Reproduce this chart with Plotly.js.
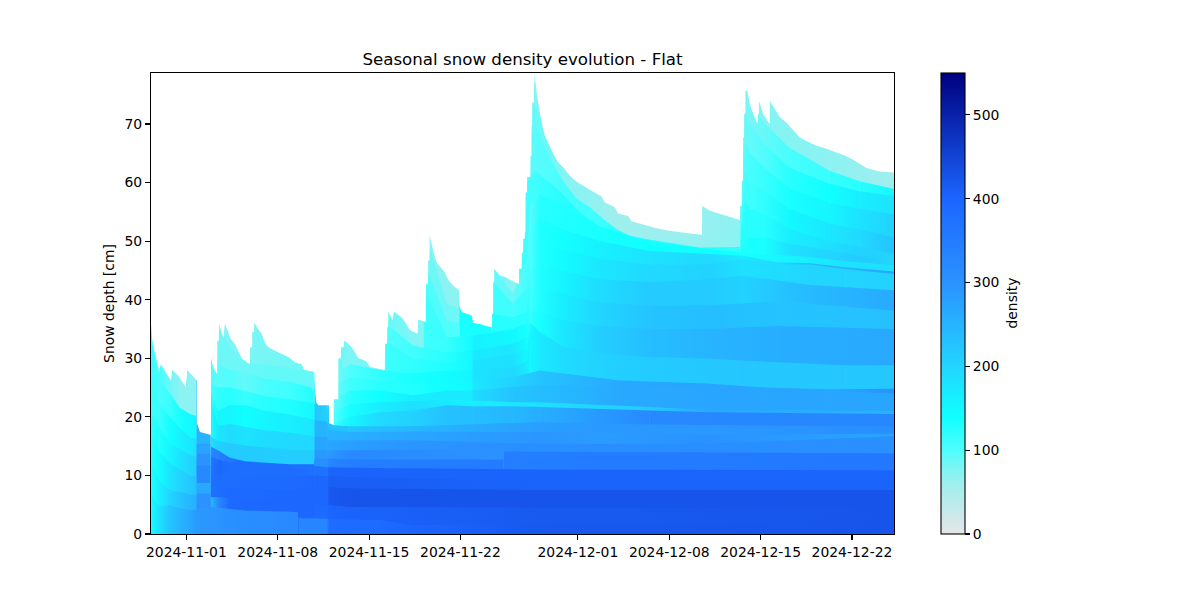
<!DOCTYPE html>
<html>
<head>
<meta charset="utf-8">
<script src="https://cdn.plot.ly/plotly-3.0.1.min.js"></script>
<style>html,body{margin:0;padding:0;background:#fff}#chart{width:1200px;height:600px}</style>
</head>
<body>
<div id="chart"></div>
<script>
const startDate = Date.UTC(2024, 9, 29, 7, 0);
const endDay = 56.93;
const chartTitle = "Seasonal snow density evolution - Flat";
const yLabel = "Snow depth [cm]";
const barLabel = "density";
const xTicks = ["2024-11-01","2024-11-08","2024-11-15","2024-11-22","2024-12-01","2024-12-08","2024-12-15","2024-12-22"];
const yTicks = [0,10,20,30,40,50,60,70];
const barTicks = [0,100,200,300,400,500];
const densityStops = [0,60,100,140,200,300,400,550];
const densityColors = [[230,230,230],[160,238,238],[80,253,253],[16,255,255],[34,213,255],[43,146,255],[27,102,255],[0,0,128]];
const paleSnowRho = 68;

// snow surface: days since start, depth in cm
const surfaceDays = [0,.10,.25,.44,.64,.74,1.07,1.53,1.63,2.09,2.66,2.78,3.51,3.52,3.75,4.52,4.59,4.60,4.77,5.03,5.07,5.08,5.20,5.21,5.36,5.54,5.67,5.92,6.13,6.43,6.66,6.95,7.24,7.58,7.59,7.75,7.76,7.90,7.91,8.2,8.48,8.67,8.86,9.12,9.50,9.96,10.52,11.03,11.54,11.74,12.51,12.56,12.66,12.82,13.63,13.64,14.0,14.01,14.35,14.36,14.55,14.56,14.78,14.79,15.05,15.37,15.65,15.88,16.2,16.52,16.78,17.24,17.55,17.92,17.93,18.09,18.10,18.17,18.18,18.51,18.61,18.92,19.22,19.46,19.65,19.84,20.43,20.47,21.06,21.07,21.23,21.24,21.34,21.35,21.62,21.88,22.2,22.52,22.7,22.90,23.24,23.59,23.62,23.80,24.57,24.69,25.28,25.66,26.12,26.13,26.21,26.22,26.29,26.30,26.73,27.1,27.58,28.20,28.21,28.40,28.41,28.51,28.52,28.64,28.65,28.69,28.70,28.81,28.82,29.07,29.08,29.15,29.16,29.20,29.21,29.33,29.34,29.38,29.39,29.55,29.75,29.93,30.18,30.56,30.95,31.26,31.58,31.97,32.35,32.85,33.38,33.93,34.52,34.78,35.23,35.54,35.80,36.56,36.82,37.71,38.2,38.74,39.6,40.52,41.3,42.22,42.23,42.82,43.59,44.60,45.12,45.13,45.26,45.27,45.36,45.37,45.44,45.45,45.54,45.55,45.68,45.88,46.14,46.47,46.52,46.58,46.59,46.90,47.41,47.42,47.66,47.93,48.18,48.69,49.18,49.71,50.3,50.99,51.7,52.52,53.16,53.80,54.3,54.82,55.84,56.93];
const surfaceDepth = [35.9,33,31.3,29.6,27.6,29,27.8,26.2,28,27,25.1,28,26.2,18.9,17.4,16.9,16.9,30,28.5,27.4,27.4,33,33,35.9,34.9,33.4,35.9,34.5,33.2,32.5,31.3,30,29.5,29,31.9,31.9,34.5,34.5,36.1,35,34.2,33,32.2,31.7,31.3,30.8,30.2,29.3,29,28,27.7,25.1,22.5,22,22,18.9,18.6,23,23,30,30,31.9,31.9,33,32.6,31.9,31,30,29.8,29.4,28.5,28.3,28.2,28,32.5,32.5,35.3,35.3,38,36.5,38,37.5,36.9,36.2,35.5,34.8,34.2,36.6,36.2,42.7,42.7,46.7,46.7,51,48.4,46.4,45.5,44.7,43.8,43,42.2,41.7,39,37.9,37.3,36,35.8,35.5,35.3,37.6,37.6,43,43,45.3,44.1,43.9,43.3,42.7,45.3,45.3,48,48,50.4,50.4,51.5,51.5,58.3,58.3,60.9,61,64.5,64.5,69.7,69.7,73.6,73.6,77,77,78.6,75.3,72.6,70.2,68,66.3,64.3,63.3,62.6,61.5,60.6,59.8,59.1,58.3,57.6,56.6,56.1,55.8,54.7,54.3,53.4,52.8,52.5,52.2,51.8,51.5,51.3,51.1,56,55.2,54.7,54,53.6,56,56,60.3,60.3,67.7,67.7,71.7,71.7,75.6,75.8,73.4,71.7,70,71.7,71.7,73.9,71.7,70,73.9,73,72,71.2,70.2,69,67.7,67,66.3,65.8,65.2,64.6,63.9,63.2,62.5,61.9,61.7];
// density of the uppermost snow at these days
const surfaceRhoDays = [0,.69,1.46,2.22,3.45,3.52,4.55,4.6,5.08,12.5,12.56,13.54,13.64,13.98,14,15,17.54,18,20.07,22.67,23.55,23.62,26.1,26.14,28.14,28.8,29.41,33,35.9,42.2,45.17,46,49.7,52,54.3,56.93];
const surfaceRho = [100,105,85,70,70,250,250,105,75,85,205,205,230,230,100,78,80,90,75,70,70,135,135,90,65,85,75,70,60,65,70,75,72,70,65,60];

// snow layers, bottom to top: read days, height of the layer's top (cm), density
const layerDays = [
[0,.31,.69,1.46,2.22,2.99,3.52,4.6,7.2,10.65,11.26,11.3,13.5,13.64,17.54,20.07,29.8,56.93],
[0,.69,1.46,2.22,2.99,3.45,3.52,4.55,4.6,5.13,6.05,7.2,10.65,12.5,12.56,13.5,13.64,15.24,29.8,56.93],
[0,.69,1.46,2.22,2.99,3.45,3.52,4.55,4.6,5.13,6.05,10.65,12.5,12.56,13.5,13.64,15.24,29.8,56.93],
[0,.69,1.46,2.22,2.99,3.45,3.52,4.55,4.6,5.13,6.05,10.65,12.5,12.56,13.5,13.64,15.24,29.8,56.93],
[0,.69,1.46,2.22,2.99,3.45,3.52,4.55,4.6,5.13,6.05,10.65,12.5,12.56,13.5,13.64,15.24,29.8,56.93],
[0,.69,1.46,2.22,2.99,3.45,3.52,4.55,4.6,5.13,6.05,7.2,10.65,12.5,12.56,13.5,13.64,15.24,27,27.05,56.93],
[3.52,4.55,4.6,5.13,6.05,7.2,10.65,12.5,12.56,13.5,13.64,15.24,27,27.05,56.93],
[4.6,5.13,6.05,7.2,8.73,10.65,12.5,12.56,13.5,13.64,15.24,20.07,29.8,42.59,56.93],
[4.6,5.13,6.05,7.2,8.73,10.65,12.5,12.56,13.5,13.64,15.24,20.07,29.8,34.39,42.59,56.93],
[4.6,5.13,6.05,7.2,8.73,10.65,12.5,12.56,13.5,13.64,15.24,20.07,29.8,34.39,42.59,56.93],
[4.6,5.13,6.05,7.2,8.73,10.65,12.26,12.5],
[5.08,6.05,7.2,8.73,10.65,12.5],
[14.02,15.24,17.54,20.07,22.67,24.6,24.67,27.73,29.8,38.22,42.59,56.93],
[14.02,15.24,17.54,20.07,22.67,24.6,24.67,27.73,29.8,38.22,42.59,56.93],
[14.02,15.24,17.54,20.07,22.67,24.6,24.67,27.73,29.8,35.93,42.59,47.03,52,56.93],
[14.02,15.24,17.54,20.07,22.67,24.6,24.67,27.73,29.8,35.93,42.59,47.03,52,56.93],
[14.02,15.24,17.54,20.07,22.67,24.6,24.67,27.73,28.8,29.05,29.8,31.56,34.39,38.22,42.82,45.35,53,56.93],
[17.98,20.07,22.67,24.6,24.67,27.73,28.8,29.05,29.8,31.56,34.39,38.22,42.82,47.95,56.93],
[17.98,20.07,22.67,24.6,24.67,27.73,28.8,29.05,29.8,31.56,34.39,38.22,42.82,47.95,53,56.93],
[20.9,22.67,24.6,24.67,27.73,28.8,29.05,29.8,31.56,34.39,38.22,42.82,45.35,50.5,56.93],
[21,22.67,23.62],
[21.2,22.67,23.62],
[26.14,27.73,28.8,29.05,29.8,31.56,34.39,38.22,42.82,45.35,47.95,50.5,53,56.93],
[26.22,27.73,28.8,29.05,29.8,31.56,34.39,38.22,42.82,45.35,47.95,50.5,53,56.93],
[26.3,27.73,28.8,29.05,29.8,31.56,34.39,38.22,42.82,45.35,50.5,53,56.93],
[28.19,28.8,29.41,30.56,31.56,32.86,34.62,35.7,36.69,38.22],
[28.8,29.41,30.56,31.58,32.63,33.63,34.62,35.7,36.69,37.99,42.05,45.12],
[29.21,30.56,31.58],
[45.17,45.5,45.88,47.03,48.95,52,54.3,56.93],
[45.17,45.5,45.88,47.03,48.95,52,54.3,56.93],
[45.17,45.5,45.88,47.03,48.95,52,54.3,56.93],
[45.17,45.5,45.88,47.03,48.95,52,54.3,56.93],
[45.17,45.5,45.88,47.03,48.95,52,54.3,56.93],
[45.17,45.5,45.88,47.03,48.95,52,54.3,56.93]
];
const layerTops = [
[7,5.5,4.8,4.9,4.4,4.1,4.2,4.6,4,3.8,3.7,2.7,2.6,2.5,2.4,1.5,1.8,1.5],
[12,9,7.5,7.2,6.8,6.7,6.9,6.9,6.3,6.3,6.1,6,5.7,5.2,5.1,4.9,4.9,4.6,4.5,4.5],
[17,14,12,11,10,9.8,8.7,8.7,8.3,8.1,8,7.5,7.8,7.9,8,8,7.8,7.5,7.5],
[21,18,15.4,14.5,13.5,13.2,11.7,11.7,10.3,10.2,10,10,10,10,9.9,9.9,9.75,9,9],
[27,22,20,18,16.5,16.2,13.7,13.7,13.2,12.7,12.2,11.7,11.6,11.6,11.4,11.4,11.3,11,10.9],
[36,26,24,21.5,20.5,20.2,15.4,15.4,14.9,14.3,13,12.4,11.9,11.9,12.9,12.9,12.9,12.7,12.7,14,13.7],
[17.5,17.5,16.6,15.9,15.5,15.1,14.4,14.3,14.3,14.3,14.3,14.3,14.6,14.1,13.75],
[22.8,18.5,18.8,18.3,17.7,17.3,16.7,16.6,16.6,16,16,16,15.4,15.4,16.7],
[24,21,22,22,21,20.4,19.5,19.4,19.2,17.7,17.4,17.5,17.4,17.3,17,17.1],
[26,25,25,24.5,23.5,23,22.3,22.2,22,18.6,18.4,18.4,19.1,18.8,18.6,18.4],
[30,29,28,27.6,26.5,26,25,24.5],
[36,32,29.5,29,28.3,27.5],
[19,20,20.8,21.1,22,21.8,21.8,21.8,21.7,21.1,20.8,20.5],
[21,22.2,22.5,22.7,22.9,22.8,22.8,22.5,22.5,21.7,21.2,21],
[23,24.5,24.5,23.7,24.5,24.5,24.5,25.1,25.5,25.2,25.2,24.9,24.4,24],
[25,26.8,26,25.7,25.7,26.2,26.2,26.8,27.9,26.2,25.7,25,24.7,24.8],
[27,29,28,27.4,27.9,27.9,27.9,28.5,29.5,36,34.5,32,30.8,30.2,29.9,29.6,28.8,28.8],
[33,29.9,29.4,29.6,29.6,30.8,31.5,38,38,36.5,35.5,35,35,35.5,35],
[36,32.2,31,31.3,31.3,32.5,33.5,42,42,41,39.5,39,39,39.7,38.9,38.1],
[42,33.6,33.9,33.9,35,36,45,46,45,43.5,43,43.5,44.1,42.5,41.6],
[46,36.5,36],
[50,39.3,38.5],
[37.6,37,38,48,50,48.5,47,46,46,47,46,46,45.3,44.4],
[43,39.3,42,52,54,52,50,48.3,47.8,47.5,46.4,46.2,45.6,44.8],
[45.3,41,47,56,58,56,52.5,49.8,48.6,48,47.3,46.6,45.9],
[46,60,62,60,58,54.9,52,51.2,50.6,50],
[66,70,64,60.3,57.2,55.8,53.8,52,50.9,50.3,48.9,49],
[74,68,62.6],
[48,50,50.5,50.6,49.5,48.5,47.5,46.8],
[50,57,55.5,54.6,52,50,49,47.8],
[52,62,60,58.5,55.5,53,52,50.6],
[54,67,65,62.5,59,56.5,55.5,54.6],
[56,72,70,66.5,62.5,59.8,58.5,57.7],
[58,76,74,70,65.9,62,60.2,58.9]
];
const layerRho = [
[135,165,185,225,250,270,290,295,310,320,320,325,330,385,388,400,420,425],
[130,165,200,225,245,255,300,300,240,320,390,395,395,395,390,390,400,405,418,425],
[125,145,180,200,220,230,265,265,375,385,390,395,395,395,395,420,425,425,425],
[120,130,155,180,200,210,320,320,375,385,385,390,395,395,395,412,412,405,405],
[112,115,140,160,175,185,300,300,365,395,385,385,375,375,375,405,405,405,402],
[112,105,115,135,150,150,275,275,325,340,365,385,385,385,310,310,330,345,350,345,358],
[250,250,190,205,215,215,210,210,290,290,290,320,300,345,358],
[135,175,190,180,190,195,195,270,270,270,280,295,310,310,305],
[120,150,155,140,155,165,175,250,250,250,255,270,295,285,300,270],
[105,120,125,115,125,130,150,225,205,230,225,245,280,290,290,310],
[100,95,100,90,105,110,125,125],
[85,85,85,90,90,90],
[110,150,195,205,230,235,235,245,258,320,325,325],
[100,135,165,185,170,160,165,170,185,215,265,250],
[90,125,140,165,170,170,190,225,235,265,270,270,270,270],
[85,110,125,130,140,150,175,205,225,265,275,272,270,300],
[80,100,120,135,145,155,180,195,170,150,170,190,205,215,220,220,220,220],
[110,120,130,150,180,185,150,120,135,175,210,235,250,258,265],
[100,110,125,150,170,175,145,110,130,165,200,225,235,225,228,230],
[110,115,145,160,150,135,105,130,155,190,215,215,205,240,262],
[100,100,100],
[85,85,85],
[125,125,125,100,130,145,175,195,205,185,190,200,200,205],
[110,110,115,100,130,138,160,180,195,170,190,245,255,270],
[90,90,105,95,125,130,135,140,140,135,165,180,185],
[110,110,110,120,125,130,135,135,140,140],
[95,95,100,105,108,110,115,125,128,130,130,120],
[90,85,75],
[130,130,135,135,185,200,215,200],
[125,125,125,125,165,185,205,200],
[110,110,110,120,150,175,195,225],
[100,100,105,115,135,155,180,205],
[90,90,90,100,125,140,165,180],
[80,80,80,90,105,115,125,150]
];

const maxRho = 550;
const toDate = d => new Date(startDate + d * 86400000).toISOString();
function rhoColor(v) {
  let i = 0;
  while (i < densityStops.length - 2 && v > densityStops[i + 1]) i++;
  const f = (v - densityStops[i]) / (densityStops[i + 1] - densityStops[i]);
  const c = densityColors[i].map((a, k) => Math.round(a + (densityColors[i + 1][k] - a) * f));
  return "rgb(" + c.join(",") + ")";
}
function band(days, tops, rhoA, rhoB) {
  return {type: "scatter", mode: "lines", x: days.map(toDate), y: tops, fill: "toself",
    fillgradient: {type: "horizontal", colorscale: [[0, rhoColor(rhoA)], [1, rhoColor(rhoB)]]},
    line: {width: 0}, hoverinfo: "skip", showlegend: false};
}
const traces = [];
traces.push(band([0, 0, endDay, endDay, 0], [0, 90, 90, 0, 0], paleSnowRho, paleSnowRho));
for (let i = 0; i < surfaceRhoDays.length - 1; i++) {
  const a = surfaceRhoDays[i], b = surfaceRhoDays[i + 1];
  traces.push(band([a, a, b, b, a], [0, 90, 90, 0, 0], surfaceRho[i], surfaceRho[i + 1]));
}
for (let l = layerDays.length - 1; l >= 0; l--) {
  const d = layerDays[l], t = layerTops[l], r = layerRho[l];
  for (let k = 0; k < d.length - 1; k++) {
    traces.push(band([d[k], d[k], d[k + 1], d[k + 1], d[k]], [0, t[k], t[k + 1], 0, 0], r[k], r[k + 1]));
  }
}
traces.push({type: "scatter", mode: "lines", x: [...surfaceDays, endDay, 0, 0].map(toDate), y: [...surfaceDepth, 90, 90, surfaceDepth[0]],
  fill: "toself", fillcolor: "#ffffff", line: {width: 0}, hoverinfo: "skip", showlegend: false});
const font = {family: "DejaVu Sans, sans-serif", size: 13.9, color: "#000"};
traces.push({type: "scatter", mode: "markers", x: [toDate(1)], y: [-5], hoverinfo: "skip", showlegend: false,
  marker: {size: 1, color: [0], cmin: 0, cmax: maxRho, showscale: true,
    colorscale: densityStops.map((v, i) => [v / maxRho, "rgb(" + densityColors[i].join(",") + ")"]),
    colorbar: {x: 1.0633, xanchor: "left", xpad: 0, ypad: 0, y: 0.5, yanchor: "middle", len: 1, thickness: 24,
      outlinecolor: "#000", outlinewidth: 1.1, ticks: "outside", ticklen: 5, tickwidth: 1.1, tickcolor: "#000",
      tickmode: "array", tickvals: barTicks, ticktext: barTicks.map(String), tickfont: font}}});

const axisBase = {showgrid: false, zeroline: false, showline: true, mirror: true, linecolor: "#000", linewidth: 1.1,
  ticks: "outside", ticklen: 5, tickwidth: 1.1, tickcolor: "#000", tickfont: font};

Plotly.newPlot("chart", traces, {
  width: 1200, height: 600, paper_bgcolor: "#fff", plot_bgcolor: "#fff", font: font, showlegend: false,
  margin: {l: 151, r: 306, t: 72.6, b: 66, pad: 0},
  title: {text: chartTitle, font: {family: "DejaVu Sans, sans-serif", size: 16.67, color: "#000"}, x: 522.5/1200, xanchor: "center", y: 1 - 59/600, yanchor: "middle"},
  xaxis: Object.assign({}, axisBase, {type: "date", range: [toDate(0), toDate(endDay)],
    tickmode: "array", tickvals: xTicks, ticktext: xTicks}),
  yaxis: Object.assign({}, axisBase, {range: [0, 78.7], tickmode: "array", tickvals: yTicks,
    title: {text: yLabel, font: font, standoff: 6}}),
  annotations: [{text: barLabel, textangle: -90, xref: "paper", yref: "paper", x: (1011-151)/743, y: 0.5, xanchor: "center", yanchor: "middle", showarrow: false, font: font}]
}, {displayModeBar: false, staticPlot: true});
</script>
</body>
</html>
